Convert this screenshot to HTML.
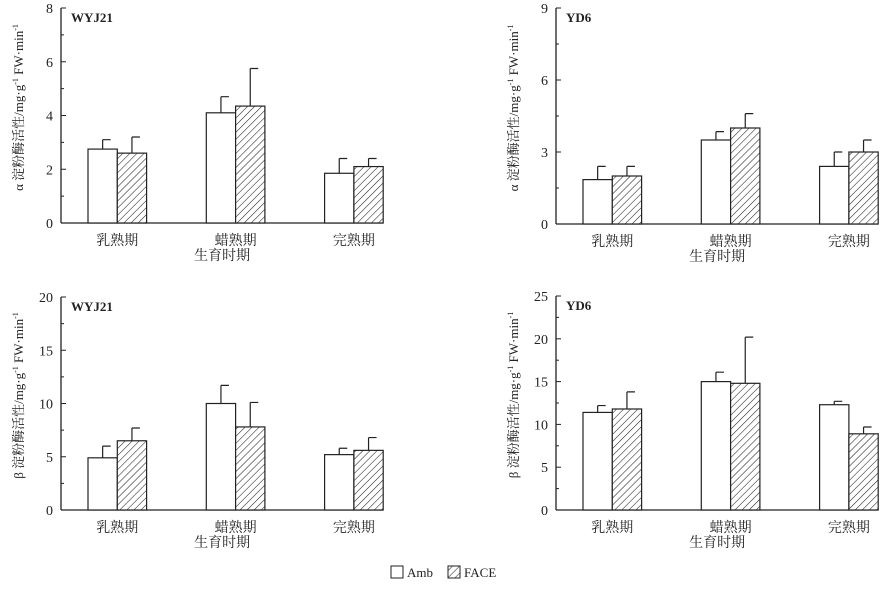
<!DOCTYPE html>
<html><head><meta charset="utf-8">
<style>
body{margin:0;background:#fff;}
svg text{font-family:"Liberation Serif","Noto Serif CJK SC","Noto Sans CJK SC",serif;fill:#222;}
</style></head>
<body>
<svg id="c" width="888" height="584" xmlns="http://www.w3.org/2000/svg">
<defs>
<pattern id="hatch" patternUnits="userSpaceOnUse" width="5" height="5" patternTransform="rotate(45)">
<rect width="5" height="5" fill="#fff"/><line x1="0" y1="0" x2="0" y2="5" stroke="#222" stroke-width="1.1"/>
</pattern>
</defs>
</svg>
<script>
const categories = ["乳熟期","蜡熟期","完熟期"];
const seriesNames = ["Amb","FACE"];
const p1Amb = [2.75,4.1,1.85], p1AmbErr = [0.35,0.6,0.55];
const p1Face = [2.6,4.35,2.1], p1FaceErr = [0.6,1.4,0.3];
const p2Amb = [1.85,3.5,2.4], p2AmbErr = [0.55,0.35,0.6];
const p2Face = [2.0,4.0,3.0], p2FaceErr = [0.4,0.6,0.5];
const p3Amb = [4.9,10.0,5.2], p3AmbErr = [1.1,1.7,0.6];
const p3Face = [6.5,7.8,5.6], p3FaceErr = [1.2,2.3,1.2];
const p4Amb = [11.4,15.0,12.3], p4AmbErr = [0.8,1.1,0.4];
const p4Face = [11.8,14.8,8.9], p4FaceErr = [2.0,5.4,0.8];
const p1Ticks = [0,2,4,6,8], p2Ticks = [0,3,6,9], p3Ticks = [0,5,10,15,20], p4Ticks = [0,5,10,15,20,25];

const NS="http://www.w3.org/2000/svg";
const svg=document.getElementById('c');
function mk(tag,attrs,parent){const e=document.createElementNS(NS,tag);for(const k in attrs)e.setAttribute(k,attrs[k]);(parent||svg).appendChild(e);return e;}

function panel(id,x0,yTop,yBot,ticks,amb,ambErr,face,faceErr,label,greek){
  const g=mk('g',{});
  
  
  const max=ticks[ticks.length-1];
  const y=v=>yBot-(v/max)*(yBot-yTop);
  const bw=29.3, spacing=118.3, first=x0+27;
  const xEnd=first+2*spacing+2*bw;
  // axes
  const ax=mk('line',{x1:x0,y1:yTop,x2:x0,y2:yBot,stroke:'#222','stroke-width':1.3},g);
  
  
  const bx=mk('line',{x1:x0,y1:yBot,x2:xEnd,y2:yBot,stroke:'#222','stroke-width':1.3},g);
  
  
  const step=ticks[1]-ticks[0];
  ticks.forEach((t,i)=>{
    mk('line',{x1:x0,y1:y(t),x2:x0+5,y2:y(t),stroke:'#222','stroke-width':1},g);
    if(i<ticks.length-1)mk('line',{x1:x0,y1:y(t+step/2),x2:x0+3,y2:y(t+step/2),stroke:'#222','stroke-width':1},g);
    const tl=mk('text',{x:x0-8,y:y(t)+5,'text-anchor':'end','font-size':14},g);
    tl.textContent=t;
    
    
  });
  categories.forEach((c,i)=>{
    const bx0=first+i*spacing;
    [[amb,ambErr,'#fff','amb'],[face,faceErr,'url(#hatch)','face']].forEach((s,j)=>{
      const xx=bx0+j*bw, v=s[0][i], e=s[1][i];
      const r=mk('rect',{x:xx,y:y(v),width:bw,height:yBot-y(v),fill:s[2],stroke:'#222','stroke-width':1.2},g);
      
      
      const cx=xx+bw/2;
      const el=mk('path',{d:`M${cx},${y(v)}V${y(v+e)}M${cx},${y(v+e)}H${cx+8}`,stroke:'#222','stroke-width':1.2,fill:'none'},g);
      
      
    });
    const cl=mk('text',{x:bx0+bw,y:yBot+22,'text-anchor':'middle','font-size':14},g);
    cl.textContent=c;
    
    
  });
  const xt=mk('text',{x:(x0+xEnd)/2,y:yBot+37,'text-anchor':'middle','font-size':14},g);
  xt.textContent='生育时期';
  
  
  const lb=mk('text',{x:x0+10,y:yTop+14,'font-size':13,'font-weight':'bold'},g);
  lb.textContent=label;
  
  
  const cy=(yTop+yBot)/2-8;
  const yt=mk('text',{x:0,y:0,'text-anchor':'middle','font-size':13,transform:`translate(${x0-38},${cy}) rotate(-90)`},g);
  yt.innerHTML=greek+' 淀粉酶活性/mg·g<tspan dy="-5" font-size="8">-1</tspan><tspan dy="5"> FW·min</tspan><tspan dy="-5" font-size="8">-1</tspan>';
  
  
}
panel('panel-alpha-wyj21',61,8,223,p1Ticks,p1Amb,p1AmbErr,p1Face,p1FaceErr,'WYJ21','α');
panel('panel-alpha-yd6',556,8,224,p2Ticks,p2Amb,p2AmbErr,p2Face,p2FaceErr,'YD6','α');
panel('panel-beta-wyj21',61,297,510,p3Ticks,p3Amb,p3AmbErr,p3Face,p3FaceErr,'WYJ21','β');
panel('panel-beta-yd6',556,296,510,p4Ticks,p4Amb,p4AmbErr,p4Face,p4FaceErr,'YD6','β');

// legend
const lg=mk('g',{});


[[391,'#fff',seriesNames[0]],[448,'url(#hatch)',seriesNames[1]]].forEach(([lx,f,n])=>{
  const b=mk('rect',{x:lx,y:566,width:12,height:12,fill:f,stroke:'#222','stroke-width':1},lg);
  
  
  const t=mk('text',{x:lx+16,y:577,'font-size':13},lg);
  t.textContent=n;
  
  
});
</script>
</body></html>
